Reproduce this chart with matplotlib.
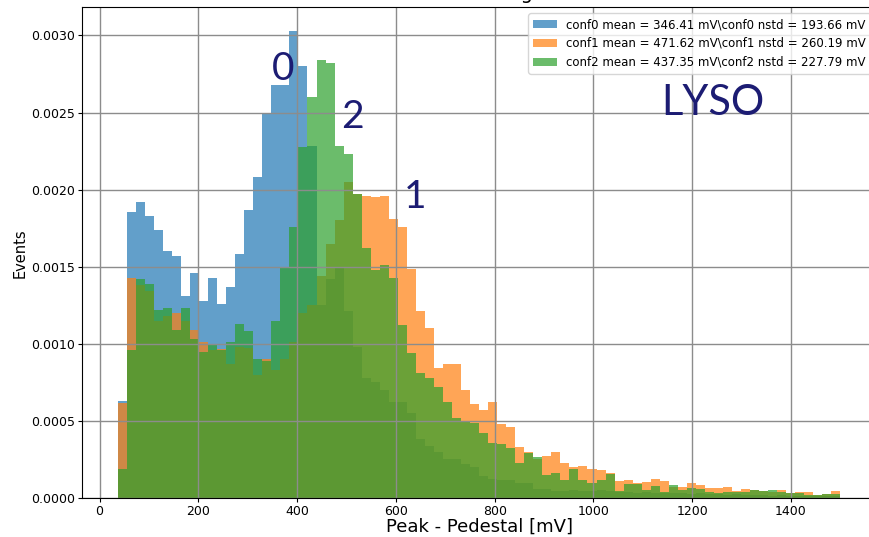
import numpy as np
import matplotlib.pyplot as plt

# 80 equal bins between the smallest and largest peak amplitude
edges = np.linspace(37, 1500, 81)

# normalised bin contents (density) for each configuration
conf0 = [0.00063, 0.001855, 0.00192, 0.00183, 0.00174, 0.0016, 0.00157, 0.00131, 0.00146, 0.001275,
         0.00143, 0.00126, 0.00137, 0.00158, 0.00187, 0.00208, 0.0025, 0.00268, 0.00268, 0.00303,
         0.0028, 0.00228, 0.00125, 0.00142, 0.00149, 0.00121, 0.00098, 0.00078, 0.000755, 0.0007,
         0.000625, 0.00062, 0.00055, 0.00038, 0.00034, 0.0003, 0.00025, 0.00025, 0.00022, 0.0002,
         0.00014, 0.000125, 0.00012, 0.00012, 0.000095, 0.000095, 0.00006, 0.00006, 0.000045, 0.000045,
         0.00005, 0.000045, 0.000045, 0.00005, 0.000045, 0.00004, 0.00004, 0.000035, 0.00004, 0.000035,
         0.00003, 0.00003, 0.00003, 0.000025, 0.00003, 0.000025, 0.000025, 0.00002, 0.000025, 0.00002,
         0.00002, 0.00002, 0.000015, 0.00002, 0.000015, 0.000015, 0.000015, 0.00001, 0.000015, 0.00001]

conf1 = [0.000615, 0.00143, 0.00138, 0.00134, 0.00115, 0.00118, 0.0012, 0.00115, 0.00109, 0.00101,
         0.00096, 0.000965, 0.00087, 0.00098, 0.00097, 0.0008, 0.0009, 0.00083, 0.0009, 0.00101,
         0.0012, 0.00125, 0.00144, 0.00165, 0.0018, 0.00205, 0.00197, 0.00196, 0.00195, 0.00196,
         0.00181, 0.001755, 0.001485, 0.00121, 0.0011, 0.00084, 0.00087, 0.00087, 0.0007, 0.00061,
         0.00057, 0.00062, 0.00048, 0.00046, 0.00033, 0.0003, 0.00025, 0.00027, 0.0003, 0.00023,
         0.0002, 0.00021, 0.00019, 0.00018, 0.00016, 0.00011, 0.00012, 0.000095, 0.000105, 0.000125,
         0.000113, 0.000074, 0.000074, 0.000095, 0.000082, 0.000067, 0.000067, 0.000074, 0.000048, 0.00006,
         0.000052, 0.000045, 0.00004, 0.000052, 0.00003, 0.000037, 0.000037, 0.00002, 0.000024, 0.000048]

conf2 = [0.000186, 0.000957, 0.00142, 0.00139, 0.00122, 0.00123, 0.00109, 0.00123, 0.00103, 0.000944,
         0.00099, 0.000957, 0.00101, 0.00113, 0.00108, 0.0009, 0.00089, 0.00115, 0.00149, 0.00176,
         0.002275, 0.0026, 0.00284, 0.00282, 0.00228, 0.00223, 0.00197, 0.00162, 0.00148, 0.00151,
         0.00143, 0.00112, 0.00094, 0.00081, 0.00078, 0.00072, 0.000625, 0.00052, 0.00049, 0.000485,
         0.000424, 0.000355, 0.00035, 0.000323, 0.000225, 0.00029, 0.000264, 0.00015, 0.000164, 0.000117,
         0.000186, 0.000117, 0.0001, 0.000117, 0.000156, 0.000048, 0.000088, 0.00009, 0.000055, 0.00008,
         0.00004, 0.000082, 0.00005, 0.000067, 0.00006, 0.000037, 0.000035, 0.00004, 0.000037, 0.00004,
         0.000055, 0.000045, 0.000055, 0.000037, 0.000035, 0.000035, 0.00002, 0.00002, 0.000024, 0.000024]

labels = ['conf0 mean = 346.41 mV\\conf0 nstd = 193.66 mV',
          'conf1 mean = 471.62 mV\\conf1 nstd = 260.19 mV',
          'conf2 mean = 437.35 mV\\conf2 nstd = 227.79 mV']

centers = (edges[:-1] + edges[1:]) / 2

fig = plt.figure(figsize=(8.7, 5.37), dpi=100)
ax = fig.add_axes([0.0939, 0.0726, 0.9136, 0.9136])

for vals, lab in zip([conf0, conf1, conf2], labels):
    ax.hist(centers, bins=edges, weights=vals, alpha=0.7, label=lab)

ax.grid(True, color='0.55', linewidth=1)
ax.set_title('LYSO SiPM Signal', fontsize=14)
ax.set_xlabel('Peak - Pedestal [mV]', fontsize=13, labelpad=0)
ax.set_ylabel('Events', fontsize=10.5, labelpad=2)
ax.tick_params(labelsize=9, length=3, pad=2)
ax.legend(loc='upper right', fontsize=8.5)

# configuration tags on top of the peaks
navy = '#1c1c73'
ax.text(372, 0.00278, '0', fontsize=28, family='Lato', color=navy, ha='center', va='center')
ax.text(512, 0.00247, '2', fontsize=28, family='Lato', color=navy, ha='center', va='center')
ax.text(639, 0.00195, '1', fontsize=28, family='Lato', color=navy, ha='center', va='center')
ax.text(1242, 0.00256, 'LYSO', fontsize=30, family='Lato', color=navy, ha='center', va='center')

fig.savefig('out.png', dpi=100)
